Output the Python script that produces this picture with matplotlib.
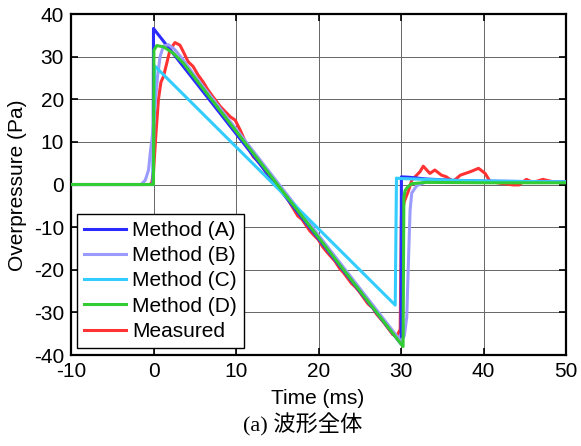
import matplotlib
matplotlib.use("Agg")
import matplotlib.pyplot as plt

plt.rcParams['font.family'] = ['Liberation Sans', 'DejaVu Sans']
plt.rcParams['axes.unicode_minus'] = False

# Method (A)
t_a = [-10, -0.05, 0.0, 30.0, 30.05, 31.0, 33.0, 36.0, 40.0, 45.0, 50.0]
p_a = [0, 0, 36.6, -37.4, 1.8, 1.7, 1.3, 1.0, 0.8, 0.7, 0.6]

# Method (B)
t_b = [-10, -1.5, -1.0, -0.6, -0.4, -0.2, 0.0, 0.3, 0.5, 0.8, 1.2, 1.8, 2.5, 3.5, 5.0,
       30.0, 30.4, 30.7, 30.9, 31.1, 31.3, 31.9, 33.0, 36.0, 40.0, 50.0]
p_b = [0, 0, 1.0, 3.4, 7.3, 10.4, 14.0, 21.0, 25.5, 30.0, 32.5, 32.8, 31.8, 29.5, 25.5,
       -36.8, -35.5, -31.0, -18.0, -6.0, -2.0, -0.3, 0.6, 0.8, 0.7, 0.6]

# Method (C)
t_c = [-10, -0.05, 0.15, 29.3, 29.45, 30.0, 33.0, 38.0, 45.0, 50.0]
p_c = [0, 0, 27.8, -28.3, 1.5, 1.4, 1.2, 0.9, 0.7, 0.6]

# Method (D)
t_d = [-10, 0.0, 0.05, 0.4, 1.2, 2.4, 3.6, 30.25, 30.3, 30.35, 30.5, 30.8, 31.3, 33.0, 40.0, 50.0]
p_d = [0, 0, 31.5, 32.6, 32.3, 30.8, 28.5, -38.0, -20.0, -3.0, -1.4, -0.6, 0.2, 0.5, 0.4, 0.4]

# Measured
t_m = [-10, -0.4, -0.2, 0.0, 0.3, 0.6, 0.9, 1.2, 1.6, 2.0, 2.6, 3.2, 3.6, 4.2, 4.8, 5.4,
       6.0, 6.6, 7.2, 8.1, 9.3, 9.9, 10.5, 11.3, 12.1, 12.9, 13.7, 14.5, 15.3, 16.1, 17.0,
       17.5, 18.0, 18.6, 19.0, 20.0, 20.5, 21.0, 22.0, 22.6, 23.0, 24.0, 24.5, 25.0, 26.0,
       26.6, 27.0, 28.0, 28.5, 29.0, 29.5, 29.9,
       30.05, 30.4, 30.9, 31.3, 31.8, 32.3, 32.7, 33.5, 34.1, 34.9, 35.5, 36.3, 37.2, 38.4,
       39.4, 40.2, 40.8, 42.0, 43.6, 44.3, 45.2, 46.0, 47.2, 48.5, 50.0]
p_m = [0, 0, 0.5, 3.0, 12.0, 20.0, 24.0, 25.3, 28.4, 31.6, 33.3, 32.7, 31.2, 28.8, 27.7, 25.7,
       24.1, 22.2, 20.6, 18.3, 15.9, 15.1, 12.8, 9.3, 6.5, 5.0, 2.6, 1.0, -1.2, -2.9, -5.8,
       -7.4, -8.2, -9.9, -11.0, -13.0, -14.6, -15.8, -18.0, -19.8, -20.6, -23.2, -24.1, -25.3, -28.0,
       -29.0, -30.3, -32.6, -33.9, -35.2, -35.5, -34.0,
       -7.5, -4.0, -1.5, 1.0, 2.0, 3.0, 4.3, 2.6, 3.4, 2.2, 1.8, 0.7, 2.2, 3.0,
       3.8, 2.6, 0.7, 0.3, -0.1, -0.1, 1.2, 0.5, 1.2, 0.6, 0.5]

fig = plt.figure(figsize=(5.81, 4.46), dpi=100)
ax = fig.add_axes([0.1222, 0.204, 0.852, 0.7646])

lw = 2.2
lm, = ax.plot(t_m, p_m, color='#ff3333', lw=lw, label='Measured', zorder=2)
la, = ax.plot(t_a, p_a, color='#2b2bff', lw=lw, label='Method (A)', zorder=3)
lb, = ax.plot(t_b, p_b, color='#9a9aff', lw=lw, label='Method (B)', zorder=3)
lc, = ax.plot(t_c, p_c, color='#33ccff', lw=lw, label='Method (C)', zorder=3)
ld, = ax.plot(t_d, p_d, color='#33cc33', lw=lw, label='Method (D)', zorder=4)

ax.set_xlim(-10, 50)
ax.set_ylim(-40, 40)
ax.set_xticks(range(-10, 51, 10))
ax.set_yticks(range(-40, 41, 10))
ax.grid(True, color='0.4', lw=0.7)
ax.set_axisbelow(True)
ax.tick_params(direction='in', length=5, width=1.2, labelsize=15,
               top=True, right=True, pad=5)
for s in ax.spines.values():
    s.set_linewidth(1.6)

leg = ax.legend(handles=[la, lb, lc, ld, lm], loc='lower left',
                bbox_to_anchor=(0.012, 0.02), fontsize=15, frameon=True,
                fancybox=False, edgecolor='black', framealpha=1,
                handlelength=2.0, handletextpad=0.3, labelspacing=0.3,
                borderpad=0.35, borderaxespad=0)
leg.get_frame().set_linewidth(1.0)

fig.text(18 / 581, 0.585, 'Overpressure (Pa)', rotation=90, fontsize=15,
         ha='center', va='center')
fig.text(318 / 581, 1 - 398 / 446, 'Time (ms)', fontsize=15, ha='center', va='center')
fig.text(303 / 581, 1 - 425 / 446, '(a) 波形全体', fontsize=16, ha='center', va='center',
         family=['Liberation Serif', 'Noto Sans CJK JP'])

fig.savefig('out.png', dpi=100)
